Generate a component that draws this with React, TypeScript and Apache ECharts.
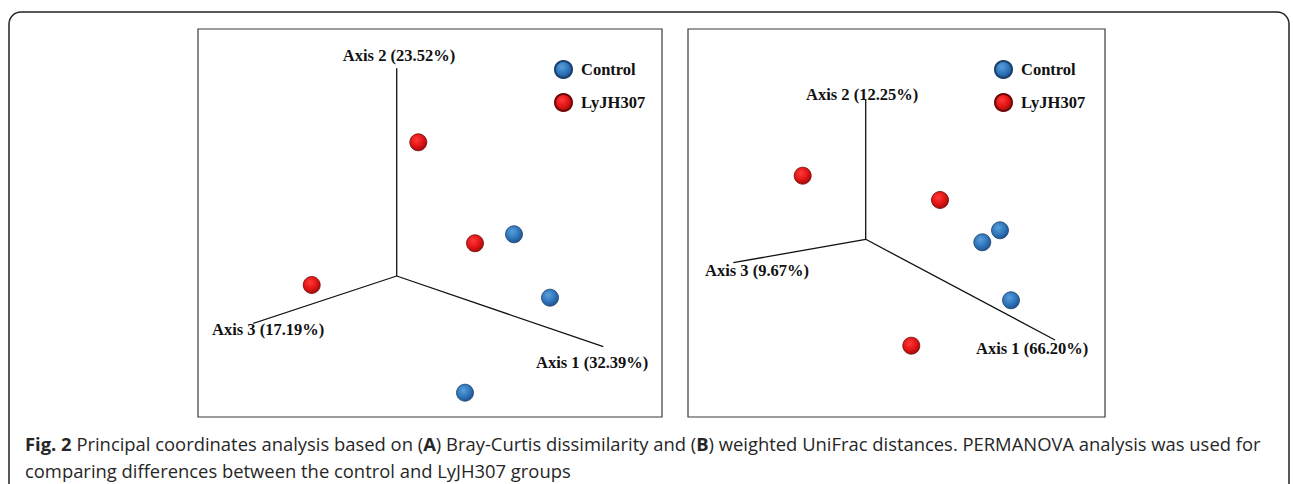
import React, { useEffect, useRef } from "react";
import * as echarts from "echarts";

// Panel A (Bray-Curtis) — coordinates in panel space (px from panel top-left)
const axisOriginA = [198.7, 247];
const axisEndsA = { axis1: [405.3, 317.7], axis2: [198.7, 39.3], axis3: [55.3, 294.3] };
const controlA = [[316, 205.3], [352, 268.7], [267, 363.7]];
const treatA = [[220.3, 113.3], [277, 214.3], [113.7, 256]];
const axisLabelsA = ["Axis 1 (32.39%)", "Axis 2 (23.52%)", "Axis 3 (17.19%)"];

// Panel B (weighted UniFrac)
const axisOriginB = [177.7, 210.3];
const axisEndsB = { axis1: [367, 311], axis2: [177.7, 71], axis3: [45.3, 233.7] };
const controlB = [[312, 201.3], [294.3, 213.3], [323, 271.3]];
const treatB = [[114.7, 146.7], [252, 171], [223.3, 316.7]];
const axisLabelsB = ["Axis 1 (66.20%)", "Axis 2 (12.25%)", "Axis 3 (9.67%)"];

const groups = ["Control", "LyJH307"];
const caption1Parts = [
  "Principal coordinates analysis based on (",
  ") Bray-Curtis dissimilarity and (",
  ") weighted UniFrac distances. PERMANOVA analysis was used for",
];
const caption2 = "comparing differences between the control and LyJH307 groups";

const SERIF = "'Liberation Serif', 'Times New Roman', serif";
const SANS = "'Open Sans', 'Noto Sans', sans-serif";

const blueFill = new echarts.graphic.RadialGradient(0.4, 0.35, 0.65, [
  { offset: 0, color: "#5aa0dc" },
  { offset: 0.6, color: "#2f76bb" },
  { offset: 1, color: "#1f5592" },
]);
const redFill = new echarts.graphic.RadialGradient(0.4, 0.35, 0.65, [
  { offset: 0, color: "#ff3a3a" },
  { offset: 0.6, color: "#e31414" },
  { offset: 1, color: "#a50c0c" },
]);

export default function App() {
  const ref = useRef<HTMLDivElement>(null);
  useEffect(() => {
    if (!ref.current) return;
    const chart = echarts.init(ref.current, null, { renderer: "svg" });

    const panels = [
      { left: 198, top: 29, width: 464, height: 388, origin: axisOriginA, ends: axisEndsA, control: controlA, treat: treatA },
      { left: 688, top: 29, width: 417, height: 388, origin: axisOriginB, ends: axisEndsB, control: controlB, treat: treatB },
    ];

    const grid = panels.map((p) => ({
      left: p.left, top: p.top, width: p.width, height: p.height,
      show: true, borderColor: "#3a3a3a", borderWidth: 1.2, backgroundColor: "transparent",
    }));
    const xAxis = panels.map((p, i) => ({ type: "value", gridIndex: i, min: 0, max: p.width, show: false }));
    const yAxis = panels.map((p, i) => ({ type: "value", gridIndex: i, min: 0, max: p.height, inverse: true, show: false }));

    const series: any[] = [];
    panels.forEach((p, i) => {
      series.push({
        type: "line", xAxisIndex: i, yAxisIndex: i, silent: true, symbol: "none",
        lineStyle: { color: "#111", width: 1.3 },
        data: [p.ends.axis3, p.origin, p.ends.axis1],
      });
      series.push({
        type: "line", xAxisIndex: i, yAxisIndex: i, silent: true, symbol: "none",
        lineStyle: { color: "#111", width: 1.3 },
        data: [p.origin, p.ends.axis2],
      });
      series.push({
        type: "scatter", name: groups[0], xAxisIndex: i, yAxisIndex: i, symbolSize: 17,
        itemStyle: { color: blueFill, borderColor: "#1a3f6a", borderWidth: 0.8, opacity: 1 },
        data: p.control,
      });
      series.push({
        type: "scatter", name: groups[1], xAxisIndex: i, yAxisIndex: i, symbolSize: 17,
        itemStyle: { color: redFill, borderColor: "#6e0808", borderWidth: 0.8, opacity: 1 },
        data: p.treat,
      });
    });

    const legendBase = {
      orient: "vertical", icon: "circle", itemWidth: 17, itemHeight: 17, itemGap: 14,
      padding: 0, data: groups, selectedMode: false,
      textStyle: { fontFamily: SERIF, fontWeight: "bold", fontSize: 16.5, color: "#111", padding: [0, 0, 0, 4] },
    };

    const labelStyle = { fontFamily: SERIF, fontWeight: "bold", fontSize: 16.5, fill: "#111" };
    const txt = (text: string, x: number, y: number, align = "left") => ({
      type: "text", x, y, style: { ...labelStyle, text, align, verticalAlign: "middle" },
    });

    const option: any = {
      animation: false,
      grid, xAxis, yAxis, series,
      legend: [
        { ...legendBase, left: 554, top: 60 },
        { ...legendBase, left: 994, top: 60 },
      ],
      graphic: [
        {
          type: "rect", shape: { x: 9, y: 12, width: 1280, height: 520, r: 12 },
          style: { fill: "none", stroke: "#222", lineWidth: 1.5 }, silent: true,
        },
        txt(axisLabelsA[1], 399, 55, "center"),
        txt(axisLabelsA[2], 212, 329),
        txt(axisLabelsA[0], 536, 362),
        txt(axisLabelsB[1], 806, 94),
        txt(axisLabelsB[2], 705, 270),
        txt(axisLabelsB[0], 976, 348),
        {
          type: "text", x: 25, y: 443,
          style: {
            text: "{b|Fig. 2} " + caption1Parts[0] + "{b|A}" + caption1Parts[1] + "{b|B}" + caption1Parts[2],
            fontFamily: SANS, fontSize: 18.4, fill: "#262626", verticalAlign: "middle",
            rich: { b: { fontFamily: SANS, fontSize: 18.4, fontWeight: "bold", fill: "#262626" } },
          },
        },
        {
          type: "text", x: 25, y: 470,
          style: { text: caption2, fontFamily: SANS, fontSize: 18.4, fill: "#262626", verticalAlign: "middle" },
        },
      ],
    };
    chart.setOption(option);
    return () => chart.dispose();
  }, []);
  return <div ref={ref} style={{ position: "fixed", left: 0, top: 0, width: 1293, height: 484, background: "#fff" }} />;
}
